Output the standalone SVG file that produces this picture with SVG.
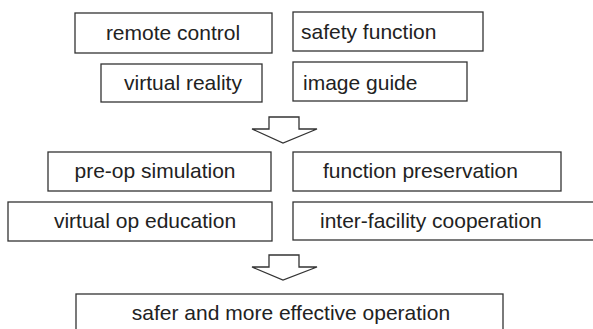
<svg xmlns="http://www.w3.org/2000/svg" width="593" height="329" viewBox="0 0 593 329">
<style>
.box{fill:#fff;stroke:#333;stroke-width:1.3}
.t{font-family:"Liberation Sans",Arial,sans-serif;font-size:21px;fill:#222}
.m{text-anchor:middle}
.arrow{fill:#fff;stroke:#333;stroke-width:1.3;stroke-linejoin:miter}
</style>
<rect width="593" height="329" fill="#fff"/>
<g id="remote-control"><rect class="box" x="75" y="13" width="197" height="40"/><text class="t m" x="173" y="40">remote control</text></g>
<g id="safety-function"><rect class="box" x="293" y="12" width="190" height="39"/><text class="t" x="301" y="39">safety function</text></g>
<g id="virtual-reality"><rect class="box" x="101" y="64" width="161" height="38"/><text class="t m" x="183" y="90">virtual reality</text></g>
<g id="image-guide"><rect class="box" x="293" y="62" width="174" height="39"/><text class="t" x="303" y="90">image guide</text></g>
<g id="pre-op-simulation"><rect class="box" x="48" y="152" width="223" height="39"/><text class="t m" x="155" y="178">pre-op simulation</text></g>
<g id="function-preservation"><rect class="box" x="293" y="152" width="268" height="39"/><text class="t" x="323" y="178">function preservation</text></g>
<g id="virtual-op-education"><rect class="box" x="8" y="202" width="264" height="39"/><text class="t m" x="145" y="228">virtual op education</text></g>
<g id="inter-facility-cooperation"><rect class="box" x="293" y="202" width="310" height="38"/><text class="t" x="320" y="228">inter-facility cooperation</text></g>
<g id="safer-operation"><rect class="box" x="76" y="294" width="427" height="50"/><text class="t m" x="291" y="320">safer and more effective operation</text></g>
<g id="connectors">
<polygon class="arrow" points="269,117 299,117 299,129 317,129 283,143 252,129 269,129"/>
<polygon class="arrow" points="269,255 299,255 299,267 317,267 283,280 252,267 269,267"/>
</g>
</svg>
